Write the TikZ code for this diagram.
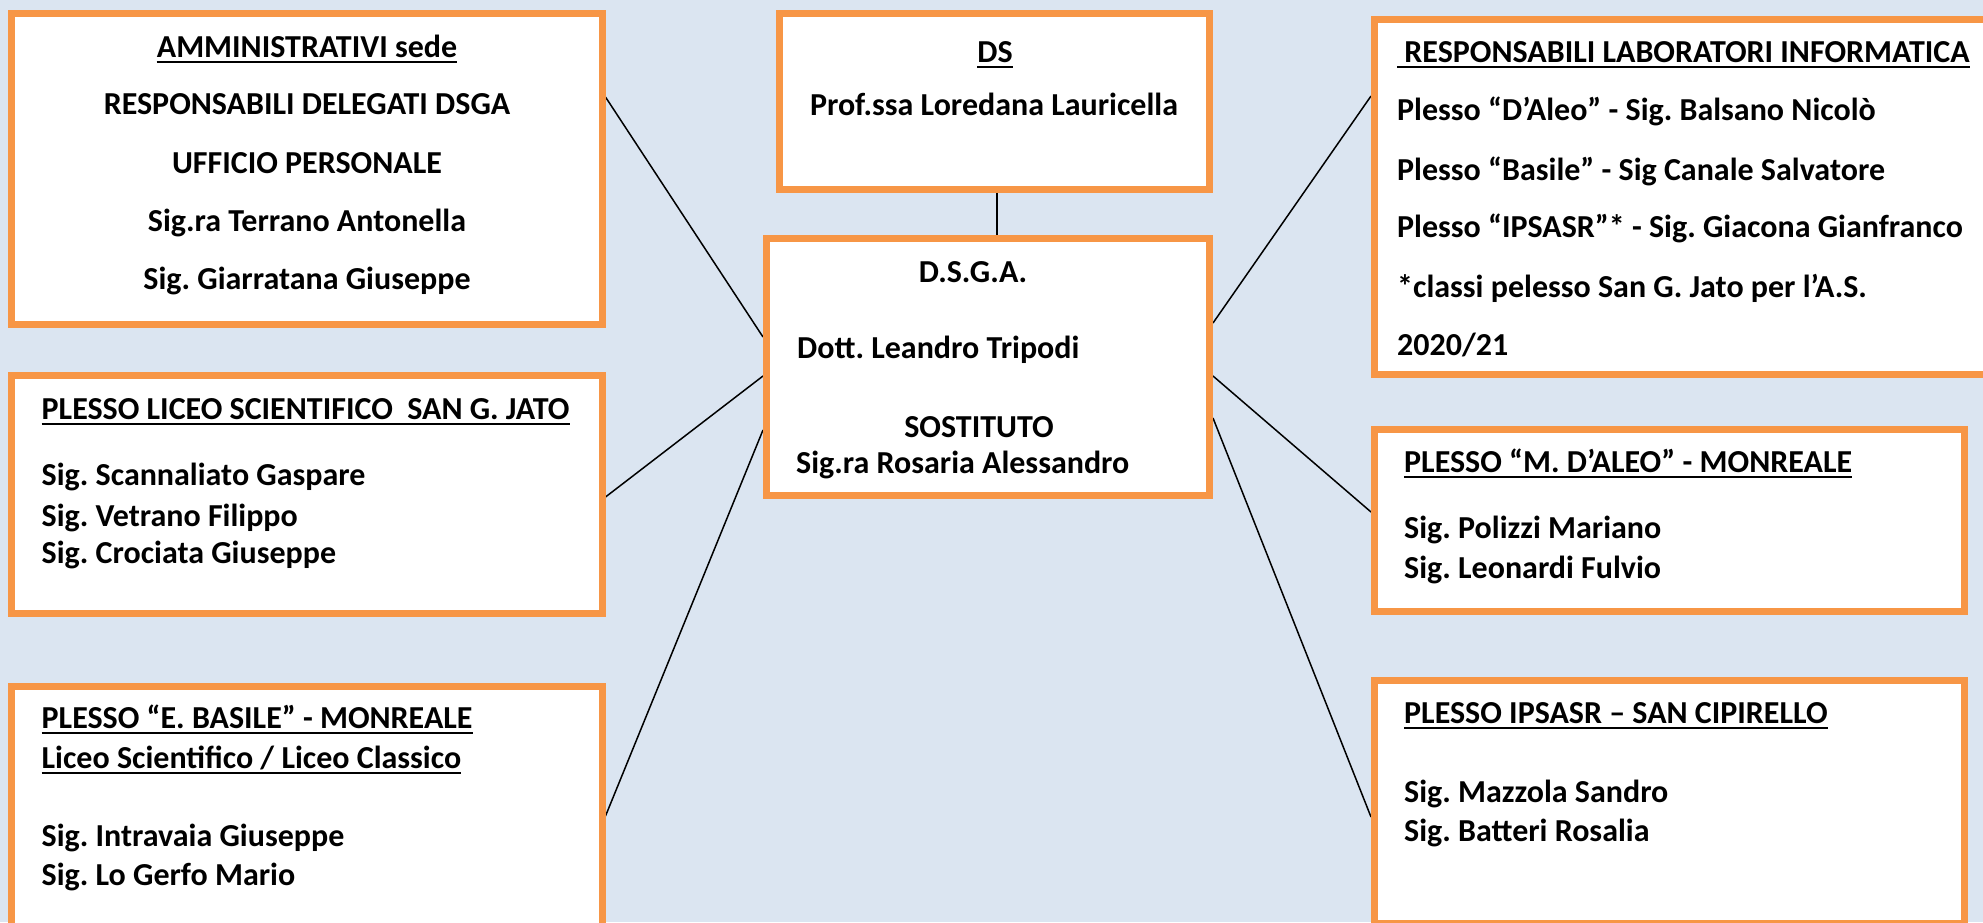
\documentclass[tikz,border=0pt]{standalone}
\usepackage{fontspec}
\setmainfont{Carlito}
\frenchspacing
\pgfdeclarelayer{bg}
\pgfsetlayers{bg,main}
\definecolor{bgblue}{HTML}{DBE5F1}
\definecolor{boxorange}{HTML}{F79646}
\tikzset{
  box/.style={draw=boxorange, line width=7pt, fill=white, inner sep=0pt, rectangle},
  txt/.style={inner sep=0pt, font=\bfseries\fontsize{32}{38}\selectfont},
  conn/.style={draw=black, line width=1.5pt},
  uline/.style={line width=2.5pt}
}
\newcommand{\ulnode}[1]{\draw[uline] ([yshift=-5pt]#1.base west) -- ([yshift=-5pt]#1.base east);}
\begin{document}
\begin{tikzpicture}[x=1pt,y=-1pt]
\useasboundingbox (0,0) rectangle (1983,922);
\clip (0,0) rectangle (1983,922);
\begin{pgfonlayer}{bg}
\fill[bgblue] (0,0) rectangle (1983,922);
\end{pgfonlayer}
% boxes
\node[box, minimum width=591pt, minimum height=311pt] (amm) at (306.5,168.5) {};
\node[box, minimum width=591pt, minimum height=238pt] (liceo) at (306.5,494) {};
\node[box, minimum width=591pt, minimum height=274pt] (basile) at (306.5,823) {};
\node[box, minimum width=430pt, minimum height=176pt] (ds) at (994.5,101.5) {};
\node[box, minimum width=443pt, minimum height=257pt] (dsga) at (988,367) {};
\node[box, minimum width=625.5pt, minimum height=355pt] (lab) at (1687.25,197) {};
\node[box, minimum width=589.5pt, minimum height=182pt] (daleo) at (1669.25,520.5) {};
\node[box, minimum width=589.5pt, minimum height=243pt] (ipsasr) at (1669.25,802) {};
% connectors
\begin{pgfonlayer}{bg}
\draw[conn] ([xshift=2.5pt]ds.south) -- ([xshift=9pt]dsga.north);
\draw[conn] ([yshift=71.5pt]amm.east) -- ([yshift=30pt]dsga.west);
\draw[conn] ([yshift=-3pt]liceo.east) -- ([yshift=-9pt]dsga.west);
\draw[conn] ([yshift=7pt]basile.east) -- ([yshift=-63pt]dsga.west);
\draw[conn] ([yshift=101pt]lab.west) -- ([yshift=44pt]dsga.east);
\draw[conn] ([yshift=8.5pt]daleo.west) -- ([yshift=-9pt]dsga.east);
\draw[conn] ([yshift=-15pt]ipsasr.west) -- ([yshift=-51pt]dsga.east);
\end{pgfonlayer}
% texts: amministrativi
\node[txt, anchor=base] (a1) at (307,57) {AMMINISTRATIVI sede}; \ulnode{a1}
\node[txt, anchor=base] (a2) at (307,114) {RESPONSABILI DELEGATI DSGA};
\node[txt, anchor=base] (a3) at (307,173) {UFFICIO PERSONALE};
\node[txt, anchor=base] (a4) at (307,231) {Sig.ra Terrano Antonella};
\node[txt, anchor=base] (a5) at (307,289) {Sig. Giarratana Giuseppe};
% DS
\node[txt, anchor=base] (d1) at (995,62) {DS}; \ulnode{d1}
\node[txt, anchor=base] (d2) at (994,115) {Prof.ssa Loredana Lauricella};
% DSGA
\node[txt, anchor=base] (g1) at (973,282) {D.S.G.A.};
\node[txt, anchor=base west] (g2) at (797,358) {Dott. Leandro Tripodi};
\node[txt, anchor=base] (g3) at (979,437) {SOSTITUTO};
\node[txt, anchor=base west] (g4) at (796,473) {Sig.ra Rosaria Alessandro};
% lab
\node[txt, anchor=base west] (l1) at (1397,62) {\strut\ RESPONSABILI LABORATORI INFORMATICA}; \ulnode{l1}
\node[txt, anchor=base west] (l2) at (1397,120) {Plesso “D’Aleo” - Sig. Balsano Nicolò};
\node[txt, anchor=base west] (l3) at (1397,180) {Plesso “Basile” - Sig Canale Salvatore};
\node[txt, anchor=base west] (l4) at (1397,237) {Plesso “IPSASR”* - Sig. Giacona Gianfranco};
\node[txt, anchor=base west] (l5) at (1397,297) {*classi pelesso San G. Jato per l’A.S.};
\node[txt, anchor=base west] (l6) at (1397,355) {2020/21};
% liceo
\node[txt, anchor=base west] (s1) at (41.5,419) {PLESSO LICEO SCIENTIFICO\ \ SAN G. JATO}; \ulnode{s1}
\node[txt, anchor=base west] (s2) at (41.5,485) {Sig. Scannaliato Gaspare};
\node[txt, anchor=base west] (s3) at (41.5,526) {Sig. Vetrano Filippo};
\node[txt, anchor=base west] (s4) at (41.5,563) {Sig. Crociata Giuseppe};
% basile
\node[txt, anchor=base west] (b1) at (41.5,728) {PLESSO “E. BASILE” - MONREALE}; \ulnode{b1}
\node[txt, anchor=base west] (b2) at (41.5,768) {Liceo Scientifico / Liceo Classico}; \ulnode{b2}
\node[txt, anchor=base west] (b3) at (41.5,846) {Sig. Intravaia Giuseppe};
\node[txt, anchor=base west] (b4) at (41.5,885) {Sig. Lo Gerfo Mario};
% daleo
\node[txt, anchor=base west] (m1) at (1404,472) {PLESSO “M. D’ALEO” - MONREALE}; \ulnode{m1}
\node[txt, anchor=base west] (m2) at (1404,538) {Sig. Polizzi Mariano};
\node[txt, anchor=base west] (m3) at (1404,578) {Sig. Leonardi Fulvio};
% ipsasr
\node[txt, anchor=base west] (p1) at (1404,723) {PLESSO IPSASR – SAN CIPIRELLO}; \ulnode{p1}
\node[txt, anchor=base west] (p2) at (1404,802) {Sig. Mazzola Sandro};
\node[txt, anchor=base west] (p3) at (1404,841) {Sig. Batteri Rosalia};
\end{tikzpicture}
\end{document}
